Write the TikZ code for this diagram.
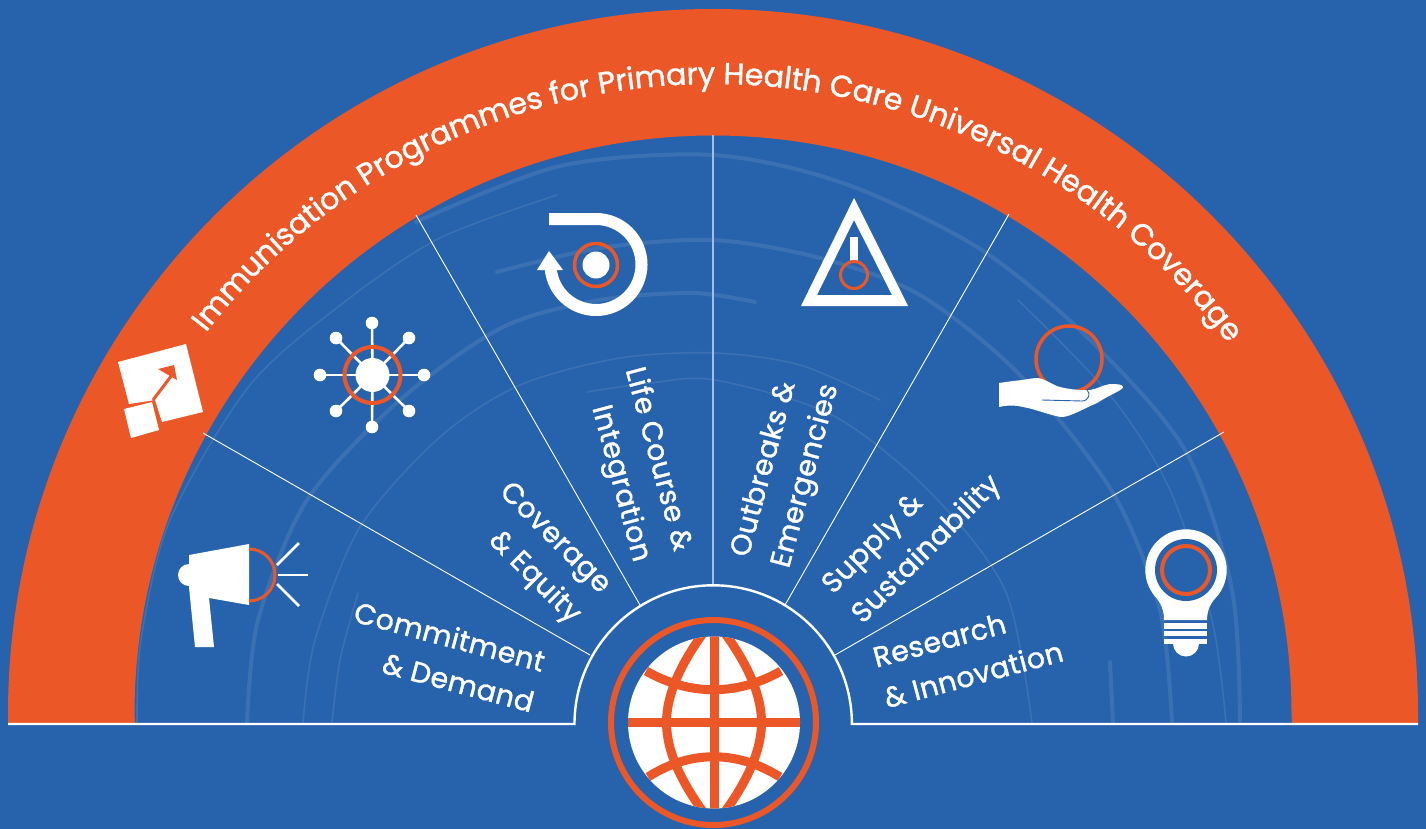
\documentclass[tikz,border=0pt]{standalone}
\usepackage{fontspec}
\setmainfont{Poppins}
\newfontfamily\labelfont{Poppins}[LetterSpace=1.5,FakeBold=1.3]
\newfontfamily\titlefont{Poppins}[FakeBold=1.3]
\usetikzlibrary{decorations.text,calc}
\definecolor{bgblue}{HTML}{2763AC}
\definecolor{bandorange}{HTML}{EC5728}
\definecolor{ghost}{HTML}{3B71B3}
\definecolor{midspoke}{HTML}{A5BEDF}
\tikzset{
  lbl/.style={text=white,font=\labelfont\fontsize{28.5}{42}\selectfont,inner sep=0pt},
  spoke/.style={draw=white,line width=0.9pt},
  ghostthick/.style={draw=ghost,line width=4pt,line cap=round},
  ghostthin/.style={draw=ghost,line width=1.6pt,line cap=round},
  wline/.style={draw=white,line width=2.8pt},
  oring/.style={draw=bandorange,line width=3.5pt},
  globeline/.style={draw=bandorange,line width=9pt},
}
\begin{document}
\begin{tikzpicture}[x=1pt,y=-1pt]
\useasboundingbox (0,0) rectangle (1426,829);
\fill[bgblue] (0,0) rectangle (1426,829);
% faint background arcs
\draw[ghostthin] plot[smooth] coordinates {(137,723)(141,640)(170,520)(250,385)(347,300)(440,238)(557,195)};
\draw[ghostthick] plot[smooth] coordinates {(416,222)(560,166)(713,155)(843,183)(977,247)(1085,335)(1185,450)(1232,590)(1240,723)};
\draw[ghostthick] plot[smooth] coordinates {(247,723)(258,620)(307,500)(400,400)(503,327)(600,300)(693,293)(755,302)};
\draw[ghostthick] plot[smooth] coordinates {(497,272)(600,248)(713,240)(820,258)(920,295)(1020,375)(1113,493)(1160,610)(1172,723)};
\draw[ghostthick] plot[smooth] coordinates {(1110,662)(1113,723)};
\draw[ghostthin] plot[smooth] coordinates {(303,723)(315,640)(360,527)(440,437)(520,385)(620,358)(715,353)(800,365)(880,400)};
\draw[ghostthin] plot[smooth] coordinates {(587,392)(650,383)(715,380)(832,415)(928,490)(1005,590)(1032,723)};
\draw[ghostthin] plot[smooth] coordinates {(1018,300)(1110,395)(1170,490)(1212,620)(1226,723)};
\draw[ghostthin] plot[smooth] coordinates {(358,593)(340,660)(332,723)};
% orange band
\fill[bandorange] (8,723) -- (8,714) arc[start angle=180,end angle=0,radius=705pt] -- (1418,723) -- (1292,723) -- (1291.5,714) arc[start angle=0,end angle=180,radius=578.5pt] -- (135,723) -- cycle;
% title on the band
\path[decorate,decoration={text along path,text align=center,
  text={|\titlefont\fontsize{30.2}{36}\selectfont\color{white}|Immunisation Programmes for Primary Health Care Universal Health Coverage}}]
  [shift={(713,725)}] (142:641pt) arc[start angle=142,end angle=36.8,radius=641pt];
% spokes
\coordinate (s1a) at (203,433); \coordinate (s1b) at (590,655);
\coordinate (s2a) at (416,215); \coordinate (s2b) at (640,605);
\coordinate (s3a) at (713,135); \coordinate (s3b) at (713,585);
\coordinate (s4a) at (1009,214); \coordinate (s4b) at (785,605);
\coordinate (s5a) at (1224,432); \coordinate (s5b) at (835,655);
\draw[spoke] (s1a) -- (s1b);
\draw[spoke] (s2a) -- (s2b);
\draw[draw=midspoke,line width=1.6pt] (s3a) -- (s3b);
\draw[spoke] (s4a) -- (s4b);
\draw[spoke] (s5a) -- (s5b);
% base line with the small arc
\draw[draw=white,line width=2.4pt] (8,724) -- (574.5,724) arc[start angle=180,end angle=0,radius=138.7pt] -- (1418,724);
% labels
\node[lbl,align=right,rotate=-15,anchor=east] (commit) at (539,682) {Commitment\\\& Demand};
\node[lbl,align=right,rotate=-45,anchor=east] (cover) at (590,605) {Coverage\\\& Equity};
\node[lbl,align=right,rotate=-75,anchor=east] (life) at (661,556) {Life Course \&\\Integration};
\node[lbl,align=left,rotate=75,anchor=west] (outb) at (762,562) {Outbreaks \&\\Emergencies};
\node[lbl,align=left,rotate=45,anchor=west] (supply) at (843,605) {Supply \&\\Sustainability};
\node[lbl,align=left,rotate=15,anchor=west] (research) at (879,678) {Research\\\& Innovation};
% globe
\draw[draw=bandorange,line width=6pt] (713.5,722.5) circle[radius=102.5pt];
\fill[white] (714,722.5) circle[radius=86pt];
\begin{scope}
\clip (714,722.5) circle[radius=86pt];
\draw[globeline] (704,632) .. controls (680,665) and (666.5,695) .. (666.5,722.5) .. controls (666.5,750) and (680,780) .. (704,813);
\draw[globeline] (724,632) .. controls (748,665) and (761.5,695) .. (761.5,722.5) .. controls (761.5,750) and (748,780) .. (724,813);
\draw[globeline] (714,630) -- (714,815);
\draw[globeline] (625,722.5) -- (803,722.5);
\end{scope}
\draw[globeline] (646,671) .. controls (690,696) and (737,696) .. (781,671);
\draw[globeline] (648,777) .. controls (690,750) and (737,750) .. (780,777);
% megaphone
\fill[white] (189,555) -- (249,544) -- (249,605) -- (209,598) -- (214,647) -- (195,647) -- (189,587) -- cycle;
\fill[white] (189,575) circle[radius=11pt];
\draw[draw=bandorange,line width=3pt] (249,549) arc[start angle=90,end angle=-90,radius=26pt];
\draw[wline] (277,565) -- (299,543);
\draw[wline] (278,575) -- (308,575);
\draw[wline] (277,584) -- (299,606);
% network
\foreach \px/\py in {372/323,424/375,372/427,320/375,336/338,409/338,336/411,409/411}{
  \draw[draw=white,line width=2.6pt] (372.5,375) -- (\px,\py);
  \fill[white] (\px,\py) circle[radius=6.3pt];
}
\fill[white] (372.5,375) circle[radius=17pt];
\draw[draw=bandorange,line width=4pt] (372.5,375) circle[radius=28pt];
% squares
\fill[white] (118,362) -- (186,344) -- (203,412) -- (162,422) -- (155,400) -- (129,404) -- cycle;
\fill[white] (124,409) -- (152,402) -- (159,430) -- (131,438) -- cycle;
\draw[draw=bandorange,line width=3pt] (153,400) -- (172,375);
\fill[bandorange] (158,369) -- (174,365) -- (177,380) -- cycle;
% cycle
\draw[draw=white,line width=12pt] (549,219) -- (596,219) arc[start angle=90,end angle=-175,radius=45.5pt];
\fill[white] (549,251) -- (537,270) -- (563,270) -- cycle;
\fill[white] (596,265) circle[radius=13.5pt];
\draw[oring] (596,265) circle[radius=21.5pt];
% warning triangle
\fill[white,even odd rule] (854,198) -- (801,306) -- (908,306) -- cycle (854,220) -- (817,295) -- (892,295) -- cycle;
\fill[white] (850,237) rectangle (858,262);
\draw[draw=bandorange,line width=3pt] (854,275) circle[radius=13.5pt];
% hand
\draw[oring] (1069,359) circle[radius=33pt];
\fill[white] (999,383) -- (1013,381) .. controls (1025,380) and (1032,378) .. (1037,378) .. controls (1044,378) and (1052,385) .. (1060,387) .. controls (1068,389) and (1082,391) .. (1090,390) .. controls (1097,389) and (1103,385) .. (1110,384) .. controls (1115,384) and (1123,384) .. (1123,387) .. controls (1123,390) and (1113,393) .. (1097,403) .. controls (1085,408) and (1070,417) .. (1062,417) .. controls (1055,417) and (1035,409) .. (1023,407) .. controls (1015,405) and (1008,405) .. (999,407) -- cycle;
\draw[draw=bgblue,line width=0.9pt] (1042,400) -- (1082,401) .. controls (1089,401) and (1091,393) .. (1087,390);
% bulb
\fill[white] (1186,570) circle[radius=40.7pt];
\fill[white] (1152,592) .. controls (1158,600) and (1164,606) .. (1164,620) -- (1207,620) .. controls (1207,606) and (1214,600) .. (1220,592) -- cycle;
\fill[bgblue] (1186,570) circle[radius=31pt];
\draw[draw=bandorange,line width=4pt] (1186,570) circle[radius=24pt];
\fill[white] (1164,623) rectangle (1207,628.5);
\fill[white] (1164,631) rectangle (1207,636);
\fill[white] (1164,638.5) rectangle (1207,643.5);
\fill[white] (1173,643.5) arc[start angle=180,end angle=360,radius=13pt] -- cycle;
\end{tikzpicture}
\end{document}
